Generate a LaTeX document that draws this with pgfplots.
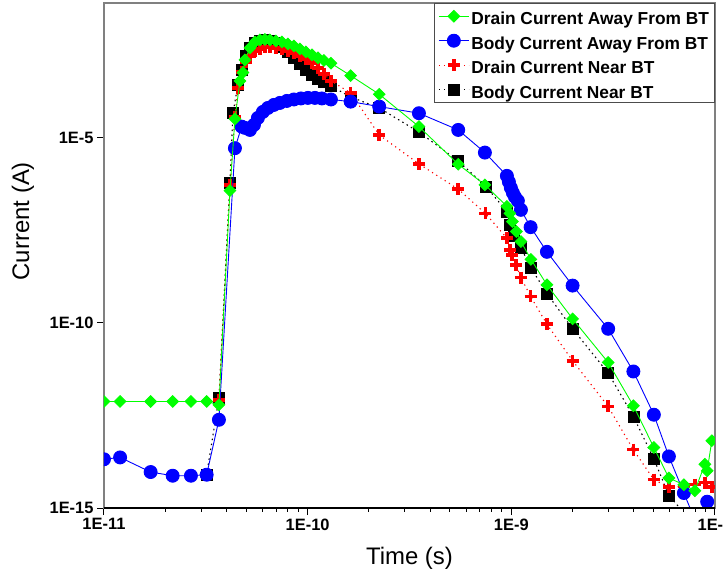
\documentclass[border=0pt]{standalone}
\usepackage{fontspec}
\setmainfont{Liberation Sans}
\usepackage{pgfplots}
\pgfplotsset{compat=1.18}
\definecolor{cgreen}{RGB}{0,255,0}
\definecolor{cblue}{RGB}{0,0,255}
\definecolor{cred}{RGB}{255,0,0}
\newcommand{\ls}{\rule[-7.2bp]{0pt}{26.2bp}}
\begin{document}
\begin{tikzpicture}
\begin{loglogaxis}[
  scale only axis, width=611bp, height=505bp,
  xmin=1e-11, xmax=1e-8, ymin=1e-15, ymax=4.3e-2,
  xtick={1e-11,1e-10,1e-9,1e-8},
  xticklabels={1E-11,1E-10,1E-9,1E-8},
  minor xtick={2e-11,3e-11,4e-11,5e-11,6e-11,7e-11,8e-11,9e-11,2e-10,3e-10,4e-10,5e-10,6e-10,7e-10,8e-10,9e-10,2e-9,3e-9,4e-9,5e-9,6e-9,7e-9,8e-9,9e-9},
  ytick={1e-15,1e-10,1e-5},
  yticklabels={1E-15,1E-10,1E-5},
  yminorticks=false,
  xtick pos=bottom, ytick pos=left,
  tick align=outside,
  major tick length=7bp, minor tick length=3.5bp,
  tick style={black, line width=1bp},
  axis line style={draw=black!50, line width=1.3bp},
  tick label style={font=\fontsize{16.5}{18}\selectfont\bfseries},
  xlabel={Time (s)}, ylabel={Current (A)},
  label style={font=\fontsize{24}{26}\selectfont},
  xlabel style={at={(axis description cs:0.5,-0.099)}, anchor=center},
  ylabel style={at={(axis description cs:-0.1326,0.568)}, anchor=center},
  clip marker paths=true,
  reverse legend,
  legend style={at={(1,1)}, anchor=north east, draw=black!70, line width=1bp,
    font=\fontsize{17.4}{19}\selectfont\bfseries, inner xsep=3.5bp, inner ysep=0.5bp},
  legend cell align=left,
  legend image code/.code={\draw[mark repeat=2,mark phase=2] plot coordinates {(0bp,0bp) (15bp,0bp) (30bp,0bp)};},
]
% Body Current Near BT
\addplot[black, line width=1.1bp, dash pattern=on 1.5bp off 3.5bp, mark=square*, mark size=5.5bp, mark options={solid, fill=black, draw=black, line width=0.5bp}] coordinates {
(3.193e-11,7.92e-15) (3.668e-11,9.29e-13) (4.155e-11,6.0e-7) (4.298e-11,4.63e-5) (4.548e-11,2.64e-4)
(4.759e-11,6.71e-4) (4.979e-11,1.60e-3) (5.209e-11,2.63e-3) (5.512e-11,3.59e-3) (5.832e-11,4.06e-3)
(6.172e-11,4.33e-3) (6.531e-11,4.06e-3) (6.987e-11,3.59e-3) (7.478e-11,2.80e-3) (8.003e-11,2.06e-3)
(8.563e-11,1.42e-3) (9.167e-11,9.75e-4) (9.81e-11,6.71e-4) (1.05e-10,4.92e-4) (1.124e-10,3.84e-4)
(1.202e-10,3.18e-4) (1.301e-10,2.48e-4) (1.626e-10,1.25e-4) (2.246e-10,6.32e-5) (3.519e-10,1.41e-5)
(5.487e-10,2.35e-6) (7.50e-10,4.82e-7) (9.515e-10,1.01e-7) (9.84e-10,4.41e-8) (1.03e-9,2.23e-8)
(1.115e-9,1.06e-8) (1.248e-9,3.05e-9) (1.496e-9,6.18e-10) (2.0e-9,6.89e-11) (2.99e-9,4.40e-12)
(3.976e-9,2.97e-13) (5.012e-9,2.10e-14) (5.94e-9,2.19e-15) (7.037e-9,7.47e-16)
};
\addlegendentry{\ls Body Current Near BT}
% Drain Current Near BT
\addplot[cred, line width=1.1bp, dash pattern=on 1.2bp off 3.8bp, mark=+, mark size=6bp, mark options={solid, draw=cred, line width=3.5bp}] coordinates {
(3.668e-11,8.35e-13) (4.155e-11,5.30e-7) (4.396e-11,3.62e-5) (4.548e-11,2.19e-4) (4.759e-11,5.93e-4)
(4.979e-11,1.10e-3) (5.209e-11,1.60e-3) (5.512e-11,2.18e-3) (5.832e-11,2.47e-3) (6.172e-11,2.80e-3)
(6.531e-11,2.80e-3) (6.987e-11,2.63e-3) (7.478e-11,2.47e-3) (8.003e-11,2.18e-3) (8.563e-11,1.93e-3)
(9.167e-11,1.60e-3) (9.81e-11,1.33e-3) (1.05e-10,1.02e-3) (1.124e-10,7.60e-4) (1.202e-10,5.24e-4)
(1.301e-10,3.39e-4) (1.626e-10,1.61e-4) (2.246e-10,1.18e-5) (3.519e-10,1.95e-6) (5.487e-10,4.06e-7)
(7.46e-10,9.0e-8) (9.515e-10,1.93e-8) (9.84e-10,9.33e-9) (1.01e-9,6.84e-9) (1.053e-9,3.67e-9)
(1.115e-9,1.67e-9) (1.244e-9,5.13e-10) (1.494e-9,9.23e-11) (2.0e-9,9.44e-12) (2.99e-9,5.51e-13)
(3.976e-9,3.74e-14) (5.012e-9,5.80e-15) (5.94e-9,3.69e-15) (7.037e-9,3.87e-15) (7.97e-9,4.25e-15)
(8.92e-9,4.82e-15) (9.65e-9,3.69e-15)
};
\addlegendentry{\ls Drain Current Near BT}
% Body Current Away From BT
\addplot[cblue, line width=0.9bp, mark=*, mark size=6.5bp, mark options={fill=cblue, draw=cblue}] coordinates {
(1e-11,2.07e-14) (1.2e-11,2.32e-14) (1.695e-11,9.36e-15) (2.174e-11,7.44e-15) (2.673e-11,7.44e-15)
(3.193e-11,7.92e-15) (3.668e-11,2.41e-13) (4.396e-11,5.18e-6) (4.742e-11,1.98e-5) (4.923e-11,1.83e-5)
(5.209e-11,1.61e-5) (5.45e-11,2.20e-5) (5.70e-11,3.40e-5) (6.03e-11,4.94e-5) (6.384e-11,6.32e-5)
(6.83e-11,7.62e-5) (7.31e-11,8.63e-5) (7.91e-11,9.77e-5) (8.563e-11,1.07e-4) (9.27e-11,1.14e-4)
(1.0035e-10,1.18e-4) (1.086e-10,1.18e-4) (1.175e-10,1.14e-4) (1.301e-10,1.07e-4) (1.626e-10,9.35e-5)
(2.246e-10,6.87e-5) (3.519e-10,4.55e-5) (5.487e-10,1.61e-5) (7.42e-10,3.94e-6) (9.515e-10,9.27e-7)
(9.73e-10,6.38e-7) (9.95e-10,4.40e-7) (1.018e-9,3.22e-7) (1.042e-9,2.51e-7) (1.077e-9,1.96e-7)
(1.115e-9,1.12e-7) (1.244e-9,3.82e-8) (1.496e-9,8.24e-9) (2.0e-9,1.01e-9) (2.99e-9,6.89e-11)
(3.976e-9,4.85e-12) (5.012e-9,3.30e-13) (5.94e-9,2.47e-14) (7.037e-9,2.54e-15) (8.15e-9,3.54e-16)
(9.157e-9,1.48e-15)
};
\addlegendentry{\ls Body Current Away From BT}
% Drain Current Away From BT
\addplot[cgreen, line width=0.9bp, mark=square*, mark size=4.1bp, mark options={rotate=45, fill=cgreen, draw=cgreen}] coordinates {
(1e-11,7.52e-13) (1.2e-11,7.52e-13) (1.695e-11,7.52e-13) (2.174e-11,7.52e-13) (2.673e-11,7.52e-13)
(3.193e-11,7.52e-13) (3.668e-11,6.12e-13) (4.155e-11,3.72e-7) (4.396e-11,3.20e-5) (4.653e-11,3.39e-4)
(4.813e-11,5.68e-4) (4.923e-11,1.25e-3) (5.209e-11,2.63e-3) (5.512e-11,3.82e-3) (5.832e-11,4.33e-3)
(6.172e-11,4.47e-3) (6.531e-11,4.33e-3) (6.987e-11,4.06e-3) (7.478e-11,3.82e-3) (8.003e-11,3.37e-3)
(8.563e-11,2.98e-3) (9.167e-11,2.47e-3) (9.81e-11,2.06e-3) (1.05e-10,1.71e-3) (1.124e-10,1.42e-3)
(1.202e-10,1.21e-3) (1.301e-10,1.02e-3) (1.626e-10,4.71e-4) (2.246e-10,1.48e-4) (3.519e-10,1.98e-5)
(5.487e-10,1.91e-6) (7.42e-10,5.30e-7) (9.515e-10,1.39e-7) (9.84e-10,9.0e-8) (1.0125e-9,5.41e-8)
(1.059e-9,2.91e-8) (1.115e-9,1.56e-8) (1.248e-9,5.16e-9) (1.496e-9,1.06e-9) (2.0e-9,1.28e-10)
(2.99e-9,8.49e-12) (3.976e-9,5.75e-13) (5.012e-9,4.31e-14) (5.94e-9,6.45e-15) (7.037e-9,4.25e-15)
(7.97e-9,2.93e-15) (8.92e-9,1.52e-14) (9.157e-9,1.01e-14) (9.65e-9,6.55e-14)
};
\addlegendentry{\ls Drain Current Away From BT}
\draw[black, line width=1.5bp] (rel axis cs:0,0) -- (rel axis cs:1,0);
\coordinate (SW) at (rel axis cs:0,0);
\end{loglogaxis}
\pgfresetboundingbox
\path[use as bounding box] (SW) ++(-104bp,-68bp) rectangle ++(723bp,576bp);
\end{tikzpicture}
\end{document}
